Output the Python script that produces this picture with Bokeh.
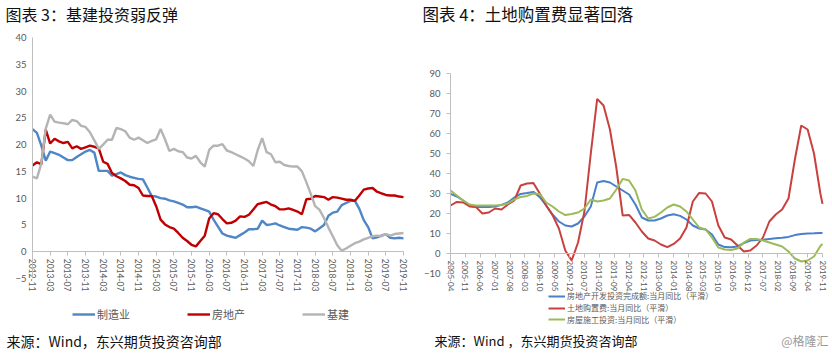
import pandas as pd
from bokeh.plotting import figure
from bokeh.models import Range1d, FixedTicker, Label, Legend, LegendItem
from bokeh.layouts import row
from bokeh.embed import file_html
from bokeh.resources import INLINE

CJK = "Noto Sans CJK SC"
NUM = "Lato"
AX = "#bfbfbf"
TXT = "#595959"
W, H = 416, 356

# ---------------- Chart 3 data (monthly, 2012-11 .. 2019-11) ----------------
left_months = list(pd.period_range("2012-11", "2019-11", freq="M").strftime("%Y-%m"))
left_tick_labels = ["2012-11", "2013-03", "2013-07", "2013-11", "2014-03", "2014-07",
                    "2014-11", "2015-03", "2015-07", "2015-11", "2016-03", "2016-07",
                    "2016-11", "2017-03", "2017-07", "2017-11", "2018-03", "2018-07",
                    "2018-11", "2019-03", "2019-07", "2019-11"]
left_y_ticks = [-5, 0, 5, 10, 15, 20, 25, 30, 35, 40]

manufacturing = [22.9, 22.2, 19.8, 17.0, 18.7, 18.4, 18.1, 17.6, 17.1, 17.1,
                 17.7, 18.2, 18.7, 19.0, 18.5, 15.1, 15.1, 15.1, 14.2, 14.5,
                 14.8, 14.3, 14.0, 13.8, 13.6, 13.5, 12.0, 10.4, 10.3, 10.0,
                 9.9, 9.6, 9.4, 9.1, 8.8, 8.3, 8.3, 8.4, 8.1, 7.8,
                 7.5, 6.0, 4.7, 3.4, 3.0, 2.8, 2.6, 3.1, 3.6, 4.2,
                 4.2, 4.3, 5.8, 5.0, 5.1, 5.3, 4.9, 4.6, 4.3, 4.2,
                 4.1, 4.6, 4.5, 4.3, 3.8, 4.4, 5.0, 6.7, 7.3, 7.5,
                 8.7, 9.1, 9.5, 9.5, 8.0, 5.9, 4.6, 2.5, 2.7, 3.0,
                 3.3, 2.6, 2.5, 2.6, 2.5]
real_estate = [16.1, 16.7, 16.3, 22.8, 20.2, 21.1, 20.6, 20.3, 20.5, 19.3,
               19.7, 19.2, 19.5, 19.8, 19.6, 19.3, 16.8, 16.4, 14.7, 14.1,
               13.7, 13.2, 12.5, 12.4, 11.9, 10.5, 10.4, 10.4, 8.5, 6.0,
               5.1, 4.6, 4.3, 3.5, 2.6, 2.0, 1.3, 1.0, 2.0, 3.0,
               6.2, 7.2, 7.0, 6.1, 5.3, 5.4, 5.8, 6.6, 6.5, 6.9,
               7.9, 8.9, 9.1, 9.3, 8.8, 8.5, 7.9, 7.9, 8.1, 7.8,
               7.5, 7.0, 9.8, 9.9, 10.4, 10.3, 10.2, 9.7, 10.2, 10.1,
               9.9, 9.7, 9.7, 9.5, 10.5, 11.6, 11.8, 11.9, 11.2, 10.9,
               10.6, 10.5, 10.5, 10.3, 10.2]
infrastructure = [14.0, 13.7, 16.5, 23.0, 25.6, 24.3, 24.1, 24.0, 23.8, 24.6,
                  24.4, 23.5, 23.3, 22.3, 20.8, 19.2, 20.0, 20.9, 20.9, 23.1,
                  22.9, 22.5, 21.3, 20.9, 21.3, 20.8, 20.3, 20.7, 21.0, 22.9,
                  21.0, 18.8, 19.2, 18.75, 18.6, 17.6, 17.4, 17.9, 16.7, 15.9,
                  19.0, 19.8, 19.8, 20.1, 18.9, 18.6, 18.2, 17.8, 17.4, 16.9,
                  16.0, 19.0, 21.2, 18.6, 18.2, 16.7, 16.8, 16.2, 16.0, 15.9,
                  15.9, 15.0, 13.0, 10.8, 8.5, 7.8, 6.3, 4.5, 2.9, 1.2,
                  0.2, 0.6, 1.1, 1.6, 1.9, 2.3, 2.6, 2.9, 3.0, 2.9,
                  3.3, 3.0, 3.3, 3.4, 3.5]

# ---------------- Chart 4 data (smoothed, 2005-04 .. 2019-11) ----------------
right_months = list(pd.period_range("2005-04", "2019-11", freq="M").strftime("%Y-%m"))
right_sample_months = right_months[::3] + [right_months[-1]]
right_tick_labels = ["2005-04", "2005-11", "2006-06", "2007-01", "2007-08", "2008-03",
                     "2008-10", "2009-05", "2009-12", "2010-07", "2011-02", "2011-09",
                     "2012-04", "2012-11", "2013-06", "2014-01", "2014-08", "2015-03",
                     "2015-10", "2016-05", "2016-12", "2017-07", "2018-02", "2018-09",
                     "2019-04", "2019-11"]
right_y_ticks = [-10, 0, 10, 20, 30, 40, 50, 60, 70, 80, 90]

dev_invest = [29.8, 28.5, 26.5, 24.0, 23.3, 23.2, 23.2, 23.5, 24.3, 25.5,
              28.0, 29.8, 30.2, 30.8, 28.2, 24.0, 19.5, 16.0, 14.0, 13.5,
              15.0, 18.5, 23.5, 35.5, 36.2, 35.5, 33.5, 31.5, 29.5, 24.5,
              18.0, 16.5, 16.5, 17.5, 19.0, 19.6, 18.8, 17.0, 14.0, 12.5,
              12.0, 9.5, 4.5, 3.2, 3.1, 3.5, 5.2, 6.5, 6.7, 6.9,
              7.3, 7.6, 7.9, 8.3, 9.2, 9.8, 10.0, 10.1, 10.3, 10.3]
land_purchase = [24.0, 25.8, 25.5, 23.5, 23.2, 20.0, 20.5, 22.5, 22.0, 24.5,
                 26.5, 34.0, 35.0, 35.3, 30.0, 24.0, 19.2, 12.5, 1.5, -3.5,
                 5.5, 21.0, 50.0, 77.3, 74.0, 62.0, 43.0, 19.0, 19.3, 15.5,
                 11.0, 7.5, 6.5, 4.5, 3.2, 4.8, 7.5, 13.0, 26.0, 30.3,
                 30.0, 26.0, 14.0, 8.0, 7.0, 4.0, 1.0, 1.5, 4.0, 8.0,
                 16.0, 19.5, 22.0, 27.5, 47.0, 64.0, 62.0, 50.0, 30.0, 24.8]
construction = [31.5, 29.0, 26.5, 24.5, 24.0, 24.0, 24.0, 24.0, 24.3, 25.0,
                27.0, 28.3, 28.8, 30.0, 29.8, 25.5, 23.5, 21.0, 19.2, 19.8,
                20.5, 22.5, 27.0, 26.0, 26.5, 27.5, 32.0, 37.3, 36.5, 31.5,
                22.0, 17.5, 18.3, 20.5, 23.0, 24.5, 23.5, 21.0, 17.0, 13.0,
                12.0, 8.0, 3.0, 2.0, 1.8, 2.5, 5.5, 7.3, 7.2, 6.5,
                5.5, 4.5, 3.5, 1.0, -2.5, -4.0, -3.5, -1.5, 3.8, 4.8]


def ranges(xv0, xv1, px0, px1, yv0, yv1, py0, py1):
    """Ranges so the whole canvas is the frame: value xv0 at pixel px0, etc.
    (py measured from the top of the canvas; yv0 is the low value)."""
    sx = (px1 - px0) / (xv1 - xv0)
    sy = (py0 - py1) / (yv1 - yv0)
    xr = Range1d(xv0 - px0 / sx, xv1 + (W - px1) / sx)
    yr = Range1d(yv0 - (H - py0) / sy, yv1 + py1 / sy)
    return xr, yr


def make_fig(xr, yr):
    p = figure(width=W, height=H, x_range=xr, y_range=yr,
               output_backend="svg", toolbar_location=None, min_border=0)
    p.outline_line_color = None
    p.xgrid.visible = False
    p.ygrid.visible = False
    return p


def style(p, x_ticks, x_labels, x_bounds, y_ticks, y_bounds, y_tick_out, xfs):
    xa = p.xaxis[0]
    xa.fixed_location = 0
    xa.bounds = x_bounds
    xa.ticker = FixedTicker(ticks=x_ticks)
    xa.major_label_overrides = {t: l for t, l in zip(x_ticks, x_labels)}
    xa.major_label_orientation = "vertical"
    xa.axis_line_color = AX
    xa.major_tick_line_color = AX
    xa.major_tick_in = 0
    xa.major_tick_out = 4
    xa.minor_tick_line_color = None
    xa.major_label_text_font = NUM
    xa.major_label_text_font_size = xfs
    xa.major_label_text_color = TXT
    xa.major_label_standoff = 3
    ya = p.yaxis[0]
    ya.fixed_location = x_bounds[0]
    ya.bounds = y_bounds
    ya.ticker = FixedTicker(ticks=y_ticks)
    ya.axis_line_color = AX
    ya.major_tick_line_color = AX
    ya.major_tick_in = 0
    ya.major_tick_out = y_tick_out
    ya.minor_tick_line_color = None
    ya.major_label_text_font = NUM
    ya.major_label_text_font_size = "9.5px"
    ya.major_label_text_color = TXT
    ya.major_label_standoff = 6


def text(p, x, y, s, size, color="#111111", font=CJK, align="left"):
    # x, y in pixels from the figure's top-left corner
    p.add_layout(Label(x=x, y=H - y, x_units="screen", y_units="screen", text=s,
                       text_font=font, text_font_size=size, text_align=align,
                       text_baseline="middle", text_color=color))


def legend(p, items, x, y_bottom, **kw):
    opts = dict(padding=0, margin=0, border_line_color=None, background_fill_alpha=0,
                label_text_font=CJK, label_text_color=TXT, label_standoff=2)
    opts.update(kw)
    p.add_layout(Legend(items=items, location=(x, H - y_bottom), **opts))


# ---------------- Left figure ----------------
lx = list(range(len(left_months)))
lticks = [left_months.index(m) for m in left_tick_labels]
xr1, yr1 = ranges(0, len(left_months) - 1, 32, 403, left_y_ticks[0], left_y_ticks[-1], 278, 37)
p1 = make_fig(xr1, yr1)
style(p1, lticks, left_tick_labels, (0, len(left_months) - 1),
      left_y_ticks, (left_y_ticks[0], left_y_ticks[-1]), 0, "8.5px")
r_man = p1.line(lx, manufacturing, line_color="#4e86c6", line_width=2.4)
r_re = p1.line(lx, real_estate, line_color="#c00000", line_width=2.4)
r_inf = p1.line(lx, infrastructure, line_color="#b4b4b4", line_width=2.4)

legend(p1, [LegendItem(label="制造业", renderers=[r_man]),
            LegendItem(label="房地产", renderers=[r_re]),
            LegendItem(label="基建", renderers=[r_inf])],
       72, 322, orientation="horizontal", spacing=57, glyph_width=23,
       glyph_height=14, label_height=14, label_text_font_size="11px")
text(p1, 5, 13, "图表 3：基建投资弱反弹", "16px")
text(p1, 6, 340, "来源：Wind，东兴期货投资咨询部", "14px")

# ---------------- Right figure ----------------
rx = [right_months.index(m) for m in right_sample_months]
rticks = [right_months.index(m) for m in right_tick_labels]
xr2, yr2 = ranges(0, len(right_months) - 1, 34, 406, right_y_ticks[0], right_y_ticks[-1], 273, 73)
p2 = make_fig(xr2, yr2)
style(p2, rticks, right_tick_labels, (0, len(right_months) - 1),
      right_y_ticks, (right_y_ticks[0], right_y_ticks[-1]), 4, "8px")
r_dev = p2.line(rx, dev_invest, line_color="#4a7fc9", line_width=2)
r_land = p2.line(rx, land_purchase, line_color="#c9413f", line_width=2)
r_con = p2.line(rx, construction, line_color="#9bbb59", line_width=2)

right_legend = [("房地产开发投资完成额:当月同比（平滑）", r_dev, 301.4),
                ("土地购置费:当月同比（平滑）", r_land, 313.1),
                ("房屋施工投资:当月同比（平滑）", r_con, 324.8)]
for lab, rend, yb in right_legend:
    legend(p2, [LegendItem(label=lab, renderers=[rend])], 132, yb,
           glyph_width=17, glyph_height=10, label_height=10, label_text_font_size="8px")

text(p2, 6, 13, "图表 4：土地购置费显著回落", "16.5px")
text(p2, 18, 340, "来源：Wind ，东兴期货投资咨询部", "13px")
text(p2, 412, 340, "@格隆汇", "12px", color="#9a9a9a", align="right")

layout = row(p1, p2, spacing=0)
open("out.html", "w").write(file_html(layout, INLINE))
